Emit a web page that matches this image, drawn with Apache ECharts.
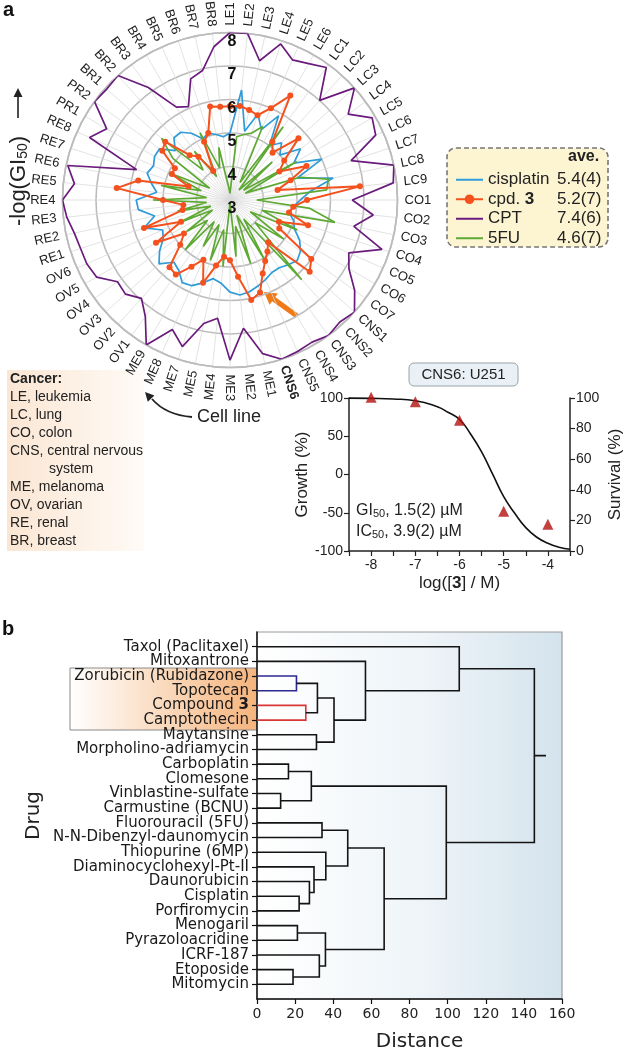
<!DOCTYPE html>
<html><head><meta charset="utf-8">
<script src="https://cdn.jsdelivr.net/npm/echarts@6/dist/echarts.min.js"></script>
<style>html,body{margin:0;padding:0;background:#fff}#c{width:625px;height:1053px}</style>
</head><body><div id="c"></div>
<script>
// ---------------- data ----------------
const cellLines = ['LE1','LE2','LE3','LE4','LE5','LE6',
  'LC1','LC2','LC3','LC4','LC5','LC6','LC7','LC8','LC9',
  'CO1','CO2','CO3','CO4','CO5','CO6','CO7',
  'CNS1','CNS2','CNS3','CNS4','CNS5','CNS6',
  'ME1','ME2','ME3','ME4','ME5','ME7','ME8','ME9',
  'OV1','OV2','OV3','OV4','OV5','OV6',
  'RE1','RE2','RE3','RE4','RE5','RE6','RE7','RE8',
  'PR1','PR2',
  'BR1','BR2','BR3','BR4','BR5','BR6','BR7','BR8'];
const cisplatin = [5.0,6.3,5.1,5.7,5.3,5.9,
  5.0,5.3,5.0,5.6,5.2,6.0,5.1,6.15,5.4,
  5.1,4.9,4.8,5.0,5.1,5.4,5.6,
  5.7,5.6,5.5,5.5,5.6,5.7,
  5.8,5.85,5.75,5.5,5.4,5.6,5.8,5.85,
  5.6,5.5,5.85,5.6,5.3,5.2,
  5.7,5.3,5.75,5.8,5.2,5.4,5.6,5.5,
  5.6,5.6,
  5.2,5.5,5.5,5.3,5.0,5.1,5.0,4.9];
const cpd3 = [5.8,5.82,5.75,5.66,6.0,6.6,
  5.15,4.9,5.75,5.0,4.7,5.5,4.9,4.45,6.9,
  5.3,4.9,4.8,5.45,4.6,4.7,6.0,
  6.2,4.7,4.9,5.1,5.4,5.9,
  6.05,5.3,4.8,4.7,5.0,5.6,4.95,5.3,
  5.75,5.7,5.0,4.7,5.55,4.6,
  5.7,4.45,4.4,5.0,6.4,5.8,4.3,4.9,
  4.9,5.5,
  5.6,4.8,4.6,4.0,4.9,5.1,5.85,5.8];
const cpt = [8.0,8.0,7.25,7.9,7.58,7.7,
  7.89,7.0,8.0,7.36,7.9,7.76,6.8,8.0,7.9,
  6.65,7.3,6.78,7.77,6.88,7.1,7.6,
  8.0,7.9,8.0,7.9,7.95,8.0,
  7.69,6.85,7.78,6.55,6.77,7.6,7.23,8.0,
  7.3,6.95,7.2,7.15,7.6,7.68,
  7.69,7.75,7.9,8.0,7.67,7.95,5.93,7.59,
  7.25,8.0,
  7.95,8.0,7.15,6.2,6.05,6.8,6.95,7.6];
const fu5 = [3.2,4.9,5.0,5.1,5.4,3.6,
  5.7,3.4,4.7,3.5,5.3,3.5,5.2,6.0,5.9,
  3.8,5.4,6.2,4.0,5.2,3.7,5.0,
  4.0,6.2,3.7,5.1,3.5,5.0,
  3.8,4.7,3.1,5.0,3.9,4.9,3.8,4.6,
  3.8,5.0,3.9,4.6,3.6,4.7,
  3.6,4.6,3.7,5.3,3.7,5.1,3.9,5.0,
  3.7,5.1,
  5.75,4.2,4.8,3.8,5.2,4.0,4.6,3.4];
const radialTicks = [3,4,5,6,7,8];
const legendNames = ['cisplatin','cpd. 3','CPT','5FU'];
const legendAverages = ['5.4(4)','5.2(7)','7.4(6)','4.6(7)'];
const cancerNotes = ['LE, leukemia','LC, lung','CO, colon','CNS, central nervous','          system','ME, melanoma','OV, ovarian','RE, renal','BR, breast'];

const doseLog = [-8,-7,-6,-5,-4];
const doseGrowth = [101,95,71,-48,-65];
const fitLog = [-8.5,-8,-7.5,-7,-6.5,-6.25,-6,-5.75,-5.5,-5.25,-5,-4.75,-4.5,-4.25,-4,-3.75,-3.5];
const fitGrowth = [99.8,99.5,98.7,96.5,88.5,81,72,53,29.5,0.5,-29,-50.7,-69.5,-82,-90,-95,-97.8];

const drugs = ['Taxol (Paclitaxel)','Mitoxantrone','Zorubicin (Rubidazone)','Topotecan','Compound 3','Camptothecin',
  'Maytansine','Morpholino-adriamycin','Carboplatin','Clomesone','Vinblastine-sulfate','Carmustine (BCNU)',
  'Fluorouracil (5FU)','N-N-Dibenzyl-daunomycin','Thiopurine (6MP)','Diaminocyclohexyl-Pt-II','Daunorubicin',
  'Cisplatin','Porfiromycin','Menogaril','Pyrazoloacridine','ICRF-187','Etoposide','Mitomycin'];
// linkage: [childA, childB, distance]; children >= 24 refer to earlier merges (24 + k)
const merges = [[2,3,20.7],[4,5,25.6],[24,25,31.7],[6,7,31.2],[26,27,40.4],[1,28,56.9],[0,29,106.1],
  [8,9,16.5],[10,11,12.4],[31,32,28.5],[12,13,34.1],[17,18,22.1],[16,35,27.5],[15,36,29.9],[14,37,36.1],
  [34,38,47.6],[19,20,21.2],[22,23,18.9],[21,41,32.7],[40,42,35.9],[39,43,66.7],[33,44,99.3],[30,45,145.5]];
const rootTail = 151.6;

// ---------------- helpers ----------------
const SANS = '"Liberation Sans", Arial, sans-serif';
const DEJA = '"DejaVu Sans", Verdana, sans-serif';
const closed = arr => arr.map((v, i) => [v, i]).concat([[arr[0], arr.length]]);

const pos = [], hgt = [], links = [];
drugs.forEach((d, i) => { pos[i] = i + 1; hgt[i] = 0; });
merges.forEach(([a, b, h], k) => {
  const id = drugs.length + k;
  pos[id] = (pos[a] + pos[b]) / 2; hgt[id] = h;
  links.push([hgt[a], pos[a], hgt[b], pos[b], h, k]);
});
const rootId = drugs.length + merges.length - 1;
const linkColor = k => k === 0 ? '#2c2a8e' : (k === 1 ? '#d93636' : '#141414');

function arrowPoly(tail, tip, sw, hl, hw) {
  const dx = tip[0] - tail[0], dy = tip[1] - tail[1], L = Math.hypot(dx, dy);
  const ux = dx / L, uy = dy / L, nx = -uy, ny = ux;
  const nk = [tip[0] - ux * hl, tip[1] - uy * hl];
  return [[tail[0] + nx * sw, tail[1] + ny * sw], [nk[0] + nx * sw, nk[1] + ny * sw], [nk[0] + nx * hw, nk[1] + ny * hw], tip,
    [nk[0] - nx * hw, nk[1] - ny * hw], [nk[0] - nx * sw, nk[1] - ny * sw], [tail[0] - nx * sw, tail[1] - ny * sw]];
}
function headPoly(from, tip, hl, hw) {
  const dx = tip[0] - from[0], dy = tip[1] - from[1], L = Math.hypot(dx, dy);
  const ux = dx / L, uy = dy / L, nx = -uy, ny = ux;
  const b = [tip[0] - ux * hl, tip[1] - uy * hl];
  return [tip, [b[0] + nx * hw, b[1] + ny * hw], [b[0] - nx * hw, b[1] - ny * hw]];
}

const chart = echarts.init(document.getElementById('c'), null, { renderer: 'canvas' });

const legendTop = 170, legendStep = 19.5;
const graphic = [
  { type: 'text', left: 3, top: 0, style: { text: 'a', font: 'bold 20px ' + SANS, fill: '#111' } },
  { type: 'text', left: 2, top: 619, style: { text: 'b', font: 'bold 20px ' + SANS, fill: '#111' } },
  // y label of radar
  { type: 'text', x: 18, y: 181, rotation: Math.PI / 2,
    style: { text: '{t|-log(GI}{s|50}{t|)}', align: 'center', verticalAlign: 'middle',
      rich: { t: { font: '22px ' + SANS, fill: '#222', lineHeight: 24, verticalAlign: 'bottom' },
              s: { font: '14px ' + SANS, fill: '#222', lineHeight: 12, verticalAlign: 'bottom' } } } },
  { type: 'polygon', shape: { points: arrowPoly([18, 118], [18, 88], 0.8, 9, 4.5) }, style: { fill: '#222' } },
  // legend box
  { type: 'rect', z: -1, shape: { x: 447, y: 148, width: 161, height: 99, r: 9 },
    style: { fill: '#fdf5d2', stroke: '#777', lineWidth: 1.6, lineDash: [5, 3] } },
  { type: 'text', x: 568, y: 157, style: { text: 'ave.', font: 'bold 16px ' + SANS, fill: '#222', align: 'left', verticalAlign: 'middle' } },
  ...legendAverages.map((v, k) => ({ type: 'text', x: 557, y: legendTop + legendStep * (k + 0.5),
    style: { text: v, font: '17px ' + SANS, fill: '#222', align: 'left', verticalAlign: 'middle' } })),
  // cancer box
  { type: 'rect', z: -1, shape: { x: 7, y: 370, width: 137, height: 181 },
    style: { fill: new echarts.graphic.LinearGradient(0, 0, 1, 0, [{ offset: 0, color: '#fbe6d3' }, { offset: 1, color: '#fffbf7' }]) } },
  { type: 'text', x: 10, y: 379, style: { text: 'Cancer:', font: 'bold 14px ' + SANS, fill: '#222', verticalAlign: 'middle' } },
  ...cancerNotes.map((t, k) => ({ type: 'text', x: 10, y: 397 + 18 * k,
    style: { text: t, font: '14px ' + SANS, fill: '#222', verticalAlign: 'middle' } })),
  { type: 'text', x: 197, y: 417, style: { text: 'Cell line', font: '18px ' + SANS, fill: '#222', verticalAlign: 'middle' } },
  { type: 'bezierCurve', shape: { x1: 192, y1: 417, cpx1: 166, cpy1: 415, x2: 152, y2: 399 }, style: { stroke: '#222', lineWidth: 1.8, fill: null } },
  { type: 'polygon', shape: { points: headPoly([156, 404], [145, 392], 9, 4.5) }, style: { fill: '#222' } },
  // orange arrow on radar
  { type: 'polygon', shape: { points: arrowPoly([297, 316], [264, 292], 2.6, 12, 7) }, style: { fill: '#f07a18' } },
  // dose-response title
  { type: 'rect', shape: { x: 409, y: 363, width: 109, height: 23, r: 5 }, style: { fill: '#e9f1f6', stroke: '#9aa3a8', lineWidth: 1 } },
  { type: 'text', x: 463.5, y: 374.5, style: { text: 'CNS6: U251', font: '15px ' + SANS, fill: '#222', align: 'center', verticalAlign: 'middle' } },
  { type: 'text', x: 356, y: 509, style: { text: '{t|GI}{s|50}{t|, 1.5(2) µM}', verticalAlign: 'middle',
      rich: { t: { font: '16px ' + SANS, fill: '#222', lineHeight: 20, verticalAlign: 'bottom' }, s: { font: '11px ' + SANS, fill: '#222', lineHeight: 10, verticalAlign: 'bottom' } } } },
  { type: 'text', x: 356, y: 530, style: { text: '{t|IC}{s|50}{t|, 3.9(2) µM}', verticalAlign: 'middle',
      rich: { t: { font: '16px ' + SANS, fill: '#222', lineHeight: 20, verticalAlign: 'bottom' }, s: { font: '11px ' + SANS, fill: '#222', lineHeight: 10, verticalAlign: 'bottom' } } } },
  // highlight box behind drug labels
  { type: 'rect', z: -1, shape: { x: 70, y: 668, width: 187, height: 62 },
    style: { fill: new echarts.graphic.LinearGradient(0, 0, 1, 0, [{ offset: 0, color: '#ffffff' }, { offset: 1, color: '#f5b47c' }]), stroke: '#8a8a8a', lineWidth: 1 } }
];

const hideSym = { opacity: 0, color: 'rgba(0,0,0,0)' };
const option = {
  animation: false,
  backgroundColor: '#fff',
  textStyle: { fontFamily: SANS },
  graphic: graphic,
  polar: { center: [230, 200], radius: 167.5 },
  angleAxis: { type: 'value', min: 0, max: 60, interval: 1, startAngle: 90, clockwise: true,
    axisLine: { show: true, lineStyle: { color: '#bcbcbc', width: 1.6 } }, axisTick: { show: false }, axisLabel: { show: false },
    splitLine: { show: true, lineStyle: { color: '#dadada', width: 0.8 } } },
  radiusAxis: { min: 3, max: 8, interval: 1, axisLine: { show: false }, axisTick: { show: false }, axisLabel: { show: false },
    splitLine: { show: true, lineStyle: { color: '#bcbcbc', width: 1.6 } } },
  legend: { data: [{ name: 'cisplatin', itemStyle: hideSym }, { name: 'cpd. 3' }, { name: 'CPT', itemStyle: hideSym }, { name: '5FU', itemStyle: hideSym }],
    orient: 'vertical', left: 455, top: legendTop, padding: 0, itemWidth: 27, itemHeight: 12, itemGap: 0,
    selectedMode: false,
    textStyle: { fontSize: 17, fontFamily: SANS, color: '#222', lineHeight: legendStep,
      rich: { b: { fontWeight: 'bold', fontSize: 17, fontFamily: SANS, color: '#222' } } },
    formatter: n => n === 'cpd. 3' ? 'cpd. {b|3}' : n },
  grid: [
    { left: 349, top: 398, width: 228, height: 153, show: false },
    { left: 257, top: 632, width: 305, height: 369, show: true, borderColor: '#9a9a9a', borderWidth: 1.2,
      backgroundColor: new echarts.graphic.LinearGradient(0, 0, 1, 0, [{ offset: 0, color: '#ffffff' }, { offset: 0.55, color: '#eef4f8' }, { offset: 1, color: '#d4e3ed' }]) }
  ],
  xAxis: [
    { gridIndex: 0, type: 'value', min: -8.5, max: -3.5, interval: 0.5,
      axisLine: { show: true, onZero: false, lineStyle: { color: '#222', width: 1.5 } },
      axisTick: { show: true, length: 5, lineStyle: { color: '#222', width: 1.2 } },
      axisLabel: { fontSize: 14, color: '#222', margin: 7, fontFamily: SANS, formatter: v => Number.isInteger(v) ? String(v) : '' },
      splitLine: { show: false },
      name: 'log([{b|3}] / M)', nameLocation: 'middle', nameGap: 24,
      nameTextStyle: { fontSize: 17, color: '#222', fontFamily: SANS, rich: { b: { fontSize: 17, fontWeight: 'bold', color: '#222', fontFamily: SANS } } } },
    { gridIndex: 1, type: 'value', min: 0, max: 160, interval: 20,
      axisLine: { show: true, onZero: false, lineStyle: { color: '#111', width: 1.5 } },
      axisTick: { show: true, length: 5, lineStyle: { color: '#111', width: 1.2 } },
      axisLabel: { fontSize: 14, color: '#222', margin: 8, fontFamily: DEJA },
      splitLine: { show: false },
      name: 'Distance', nameLocation: 'middle', nameGap: 33,
      nameTextStyle: { fontSize: 20, color: '#222', fontFamily: DEJA, padding: [0, 0, 0, 20] } }
  ],
  yAxis: [
    { gridIndex: 0, type: 'value', min: -100, max: 100, interval: 50, position: 'left',
      axisLine: { show: true, onZero: false, lineStyle: { color: '#222', width: 1.5 } },
      axisTick: { show: true, length: 5, lineStyle: { color: '#222', width: 1.2 } },
      axisLabel: { fontSize: 14, color: '#222', margin: 6, fontFamily: SANS },
      splitLine: { show: false },
      name: 'Growth (%)', nameLocation: 'middle', nameGap: 26, nameRotate: 90,
      nameTextStyle: { fontSize: 17, color: '#222', fontFamily: SANS } },
    { gridIndex: 0, type: 'value', min: 0, max: 100, interval: 20, position: 'right',
      axisLine: { show: true, onZero: false, lineStyle: { color: '#222', width: 1.5 } },
      axisTick: { show: true, length: 5, lineStyle: { color: '#222', width: 1.2 } },
      axisLabel: { fontSize: 14, color: '#222', margin: 6, fontFamily: SANS },
      splitLine: { show: false },
      name: 'Survival (%)', nameLocation: 'middle', nameGap: 37, nameRotate: 90,
      nameTextStyle: { fontSize: 17, color: '#222', fontFamily: SANS } },
    { gridIndex: 1, type: 'value', inverse: true, min: 0, max: 25, interval: 1,
      axisLine: { show: true, onZero: false, lineStyle: { color: '#111', width: 1.5 } },
      axisTick: { show: true, length: 5, customValues: drugs.map((d, i) => i + 1), lineStyle: { color: '#111', width: 1.2 } },
      axisLabel: { show: false },
      splitLine: { show: false },
      name: 'Drug', nameLocation: 'middle', nameGap: 213, nameRotate: 90,
      nameTextStyle: { fontSize: 20, color: '#222', fontFamily: DEJA } }
  ],
  series: [
    { name: 'CPT', type: 'line', coordinateSystem: 'polar', data: closed(cpt), symbol: 'none', clip: false,
      lineStyle: { color: '#6a1b7c', width: 1.7 }, itemStyle: { color: '#6a1b7c' }, z: 2 },
    { name: 'cisplatin', type: 'line', coordinateSystem: 'polar', data: closed(cisplatin), symbol: 'none', clip: false,
      lineStyle: { color: '#2f9bd9', width: 1.7 }, itemStyle: { color: '#2f9bd9' }, z: 3 },
    { name: '5FU', type: 'line', coordinateSystem: 'polar', data: closed(fu5), symbol: 'none', clip: false,
      lineStyle: { color: '#5ea934', width: 1.7 }, itemStyle: { color: '#5ea934' }, z: 4 },
    { name: 'cpd. 3', type: 'line', coordinateSystem: 'polar', data: closed(cpd3), symbol: 'circle', symbolSize: 6, showSymbol: true, clip: false,
      lineStyle: { color: '#f4511e', width: 2 }, itemStyle: { color: '#f4511e' }, z: 5 },
    { type: 'custom', coordinateSystem: 'polar', silent: true, z: 6, data: cellLines.map((n, i) => [8, i]),
      renderItem: (params, api) => {
        const i = params.dataIndex;
        const c = api.coord([3, i]), p = api.coord([8, i]);
        const dx = p[0] - c[0], dy = p[1] - c[1], L = Math.hypot(dx, dy);
        const R = L + 7;
        let th = Math.atan2(dx, -dy) * 180 / Math.PI; if (th < 0) th += 360;
        const right = th <= 180.5;
        const rot = right ? 90 - th : 270 - th;
        return { type: 'text', x: c[0] + dx / L * R, y: c[1] + dy / L * R, rotation: rot * Math.PI / 180,
          style: { text: cellLines[i], x: 0, y: 0, align: right ? 'left' : 'right', verticalAlign: 'middle',
            fill: '#222', font: (cellLines[i] === 'CNS6' ? 'bold ' : '') + '13px ' + SANS } };
      } },
    { type: 'custom', coordinateSystem: 'polar', silent: true, z: 7, data: radialTicks.map(v => [v, 0]),
      renderItem: (params, api) => {
        const p = api.coord([api.value(0), 0]);
        return { type: 'text', x: p[0] + 2, y: p[1] + 9,
          style: { text: String(api.value(0)), align: 'center', verticalAlign: 'middle', font: 'bold 16px ' + SANS, fill: '#111' } };
      } },
    { type: 'line', xAxisIndex: 0, yAxisIndex: 0, data: fitLog.map((x, i) => [x, fitGrowth[i]]), smooth: true, symbol: 'none',
      lineStyle: { color: '#111', width: 1.6 }, z: 3, clip: false },
    { type: 'scatter', xAxisIndex: 0, yAxisIndex: 0, data: doseLog.map((x, i) => [x, doseGrowth[i]]), symbol: 'triangle', symbolSize: 11,
      itemStyle: { color: '#b3120f' }, z: 4, clip: false },
    { type: 'custom', xAxisIndex: 1, yAxisIndex: 2, silent: true, data: links, z: 3,
      renderItem: (params, api) => {
        const hA = api.value(0), yA = api.value(1), hB = api.value(2), yB = api.value(3), h = api.value(4), k = api.value(5);
        return { type: 'polyline', shape: { points: [api.coord([hA, yA]), api.coord([h, yA]), api.coord([h, yB]), api.coord([hB, yB])] },
          style: { stroke: linkColor(k), lineWidth: 1.6, fill: null } };
      } },
    { type: 'line', xAxisIndex: 1, yAxisIndex: 2, data: [[hgt[rootId], pos[rootId]], [rootTail, pos[rootId]]], symbol: 'none',
      lineStyle: { color: '#141414', width: 1.6 }, z: 3 },
    // leaf labels
    { type: 'custom', xAxisIndex: 1, yAxisIndex: 2, silent: true, z: 5, clip: false, data: drugs.map((d, i) => [0, i + 1]),
      renderItem: (params, api) => {
        const p = api.coord([0, api.value(1)]);
        const n = drugs[params.dataIndex];
        return { type: 'text', x: p[0] - 8, y: p[1], style: {
          text: n === 'Compound 3' ? 'Compound {b|3}' : n, align: 'right', verticalAlign: 'middle',
          font: '15px ' + DEJA, fill: '#1a1a1a',
          rich: { b: { font: 'bold 15px ' + DEJA, fill: '#1a1a1a' } } } };
      } }
  ]
};
chart.setOption(option);
</script></body></html>
